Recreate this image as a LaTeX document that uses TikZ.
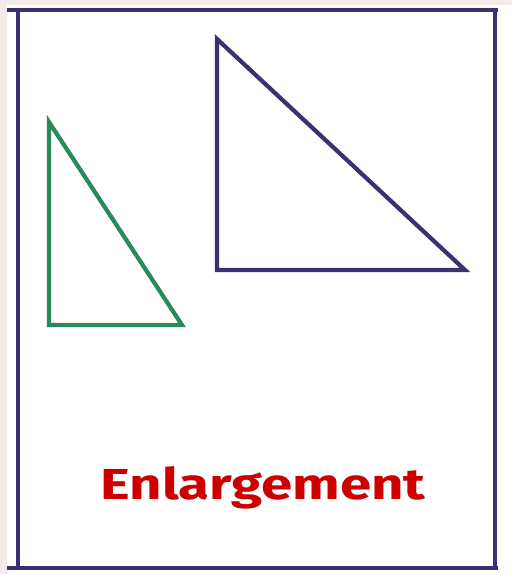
\documentclass[tikz,border=0pt]{standalone}
\usepackage{fontspec}
\setmainfont{Fira Sans}
\usepackage{xcolor}
\definecolor{framepurple}{RGB}{58,50,112}
\definecolor{trigreen}{RGB}{38,138,90}
\definecolor{labelred}{RGB}{204,0,0}
\definecolor{paper}{RGB}{243,236,230}

\begin{document}
\begin{tikzpicture}[x=0.02cm,y=-0.02cm,
    edge/.style={line width=2.7pt,framepurple},
    tri/.style={line width=2.4pt,line join=miter},
    caption/.style={font=\fontsize{24.7}{28}\selectfont\bfseries,text=labelred,inner sep=0pt}]
    \useasboundingbox (0,0) rectangle (512,574);
    % Paper and sheet
    \fill[paper] (0,0) rectangle (512,574);
    \fill[white] (7,5) rectangle (512,574);
    % Frame
    \draw[edge] (7,10) -- (498,10);
    \draw[edge] (7,568) -- (498,568);
    \draw[edge] (18,10) -- (18,568);
    \draw[edge] (495,10) -- (495,568);
    % Triangles
    \draw[tri,trigreen] (49,122) -- (49,325) -- (182,325) -- cycle;
    \draw[tri,framepurple] (217,39) -- (217,270) -- (465,270) -- cycle;
    % Label
    \node[caption,anchor=base] (lbl) at (263,499) {\scalebox{1.3}[1]{Enlargement}};
\end{tikzpicture}
\end{document}
